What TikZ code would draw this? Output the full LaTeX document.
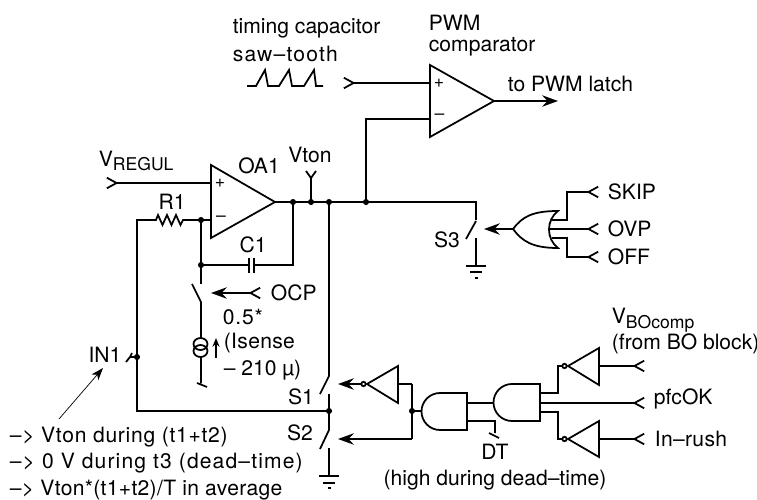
\documentclass[tikz,border=0pt]{standalone}
\usepackage{fontspec}
\setmainfont{TeX Gyre Heros}
\usetikzlibrary{arrows.meta}
\newcommand\lsp[1]{\addfontfeature{LetterSpace=#1}}
\newcommand\subtxt[1]{{\fontsize{10}{12}\selectfont\raisebox{-2.8pt}{#1}}}
\tikzset{
  barbtip/.tip={Straight Barb[reversed,length=5.5pt,width=6pt,line width=1pt]},
  headtip/.tip={Stealth[length=9pt,width=6.5pt,inset=3pt]},
  inwire/.style={barbtip-},
  tiparrow/.style={-headtip},
  inarrow/.style={barbtip-headtip},
  txt/.style={inner sep=0pt,anchor=west,font=\fontsize{12}{14}\selectfont},
  ctxt/.style={inner sep=0pt,font=\fontsize{12}{14}\selectfont},
  sign/.style={inner sep=0pt,font=\fontsize{10}{12}\selectfont}
}
\begin{document}
\begin{tikzpicture}[x=0.02cm,y=-0.02cm,line width=1pt,line join=miter]
	\useasboundingbox (0,0) rectangle (757,500);
	\coordinate (OAa) at (211,165);\coordinate (OAb) at (211,238);\coordinate (OAo) at (275,202);
	\coordinate (OAp) at (211,183);\coordinate (OAm) at (211,220);
	\coordinate (CMa) at (430,65);\coordinate (CMb) at (430,137);\coordinate (CMo) at (494,101);
	\coordinate (CMp) at (430,83);\coordinate (CMm) at (430,119);
	\coordinate (Vr) at (106,183);\coordinate (Ts) at (343,83);\coordinate (Lt) at (558,101);
	\coordinate (Na) at (293,202);\coordinate (Nb) at (311,202);\coordinate (Nc) at (329,202);
	\coordinate (Nd) at (366,202);\coordinate (Ne) at (476,202);\coordinate (Vt) at (311,178);
	\coordinate (Ra) at (156,220);\coordinate (Rb) at (183,220);\coordinate (Rc) at (137,220);
	\coordinate (Nf) at (201,220);\coordinate (Ng) at (201,265);\coordinate (Nh) at (293,265);
	\coordinate (Nl) at (137,411);\coordinate (Nm) at (329,411);\coordinate (Nk) at (137,357);
	\draw (OAa)--(OAb)--(OAo)--cycle;
	\draw (CMa)--(CMb)--(CMo)--cycle;
	\node[sign] (OAplus) at (220,183) {+};
	\node[sign] (OAminus) at (221,218.5) {--};
	\node[sign] (CMplus) at (439,83) {+};
	\node[sign] (CMminus) at (439.5,117) {--};
	\draw[inwire] (Vr)--(OAp);
	\draw[inwire] (Ts)--(CMp);
	\draw[tiparrow] (CMo)--(Lt);
	\draw (OAo)--(Ne)--(476,220);
	\draw (Nd)--(366,119)--(CMm);
	\draw (Nb)--(Vt)--(306,171) (Vt)--(316,171);
	\draw (Na)--(Nh)--(254,265) (249,265)--(Ng);
	\draw (249,258)--(249,273) (254,258)--(254,273);
	\draw (Nf)--(Ng)--(201,284);
	\draw (OAm)--(Rb)--(180.5,225)--(176,215)--(171.5,225)--(167,215)--(162.5,225)--(158,215)--(Ra)--(Rc)--(Nl)--(Nm);
	\draw (192,284)--(201,302)--(201,338) (201,357)--(201,383) (197,383)--(207,387);
	\draw (200.5,344) circle (7 and 6) (200.5,351) circle (7 and 6);
	\draw[-{Stealth[length=5pt,width=4pt]}] (216,358)--(216,338);
	\draw[inarrow] (261,293)--(211,293);
	\draw (Nc)--(329,376)--(320,394) (329,394)--(329,430)--(320,449) (329,448)--(329,476);
	\draw (319,476)--(339,476) (323,483)--(335,483) (328,488)--(331,488);
	\draw (476,221)--(466,239) (476,238)--(476,266);
	\draw (466,266)--(486,266) (470,272)--(482,272) (475,278)--(478,278);
	\draw (247,86)--(256,86)--(265,70)--(268,86)--(279,86)--(289,70)--(292,86)--(304,86)--(314,70)--(316,86)--(323,86);
	\coordinate (Ks) at (599,192);\coordinate (Kv) at (599,229);\coordinate (Kf) at (599,257);
	\coordinate (Or) at (513,229);
	\draw (Or) .. controls (522,217) and (532,211) .. (558,211) .. controls (546,220) and (546,239) .. (558,248) .. controls (532,248) and (522,241) .. (Or);
	\draw[tiparrow] (Or)--(484,229);
	\draw[inwire] (Ks)--(567,192)--(567,220)--(552,220);
	\draw[inwire] (Kv)--(550,229);
	\draw[inwire] (Kf)--(567,257)--(567,238)--(552,238);
	\draw (Nk)--(130,357)--(126,362) (130,357)--(132,353);
	\draw[thin,-{Stealth[length=7pt,width=5pt,inset=2pt]}] (59,419)--(103,368);
	\coordinate (Aa) at (421,411);\coordinate (Ab) at (493,403);
	\draw (467,393)--(440,393) arc (270:90:18.5) -- (467,430)--cycle;
	\draw (540,384)--(512,384) arc (270:90:18.5) -- (540,421)--cycle;
	\draw (467,403)--(Ab) (467,421)--(495,421)--(495,433) (489,433)--(499,438);
	\draw (Aa)--(412,411);
	\draw (398,366)--(398,403)--(367,384)--cycle;
	\draw (599,348)--(599,385)--(568,366)--cycle;
	\draw (599,421)--(599,457)--(568,439)--cycle;
	\draw (412,384)--(398,384) (412,384)--(412,439);
	\draw[tiparrow] (361,384)--(338,384);
	\draw[tiparrow] (412,439)--(338,439);
	\draw (540,393)--(558,393)--(558,366)--(562,366);
	\draw (540,412)--(558,412)--(558,439)--(562,439);
	\draw[inwire] (645,366)--(599,366);
	\draw[inwire] (645,403)--(540,403);
	\draw[inwire] (645,439)--(599,439);
	\draw (363.5,384) circle (2.2) (564.5,366) circle (2.2) (564.5,439) circle (2.2);
	\foreach\i in {Na,Nb,Nc,Nd,Nf,Ng,Nm,Nk}\draw[fill] (\i) circle (1.2pt);
	\draw[fill] (412,411) circle (1.2pt);
	\node[txt] (timing) at (232,28) {timing capacitor};
	\node[txt] (saw) at (232,54) {\lsp{5.7}saw–tooth};
	\node[txt] (pwm) at (428,23) {PWM};
	\node[txt] (comp) at (428,47) {comparator};
	\node[txt] (latch) at (507,84) {to PWM latch};
	\node[txt] (vreg) at (98,161) {V\subtxt{REGUL}};
	\node[ctxt] (oa) at (259,166) {OA1};
	\node[ctxt] (von) at (310,155) {Vton};
	\node[ctxt] (rone) at (172,202) {R1};
	\node[ctxt] (cone) at (253,245) {C1};
	\node[ctxt] (sthree) at (447,240) {S3};
	\node[txt] (skip) at (607,192) {SKIP};
	\node[txt] (ovp) at (607,229) {OVP};
	\node[txt] (off) at (607,257) {OFF};
	\node[txt] (ocp) at (270,293) {OCP};
	\node[txt] (half) at (222,317) {\lsp{4}0.5*};
	\node[txt] (isense) at (223,343) {\lsp{1.5}(Isense};
	\node[txt] (minus) at (223,370) {– 210 µ)};
	\node[ctxt] (inone) at (105,355) {IN1};
	\node[ctxt] (sone) at (301,397) {S1};
	\node[ctxt] (stwo) at (300,433) {S2};
	\node[txt] (la) at (9,437) {\lsp{3.4}–> Vton during (t1+t2)};
	\node[txt] (lb) at (9,463) {\lsp{5.4}–> 0 V during t3 (dead–time)};
	\node[txt] (lc) at (9,490) {\lsp{1.5}–> Vton*(t1+t2)/T in average};
	\node[ctxt] (dt) at (495,452) {DT};
	\node[ctxt] (high) at (495,480) {(high during dead–time)};
	\node[txt] (vbo) at (611,320) {V\subtxt{BOcomp}};
	\node[txt] (frombo) at (611,344) {(from BO block)};
	\node[txt] (pfc) at (653,399) {pfcOK};
	\node[txt] (rush) at (654,439) {\lsp{1.5}In–rush};
\end{tikzpicture}
\end{document}
